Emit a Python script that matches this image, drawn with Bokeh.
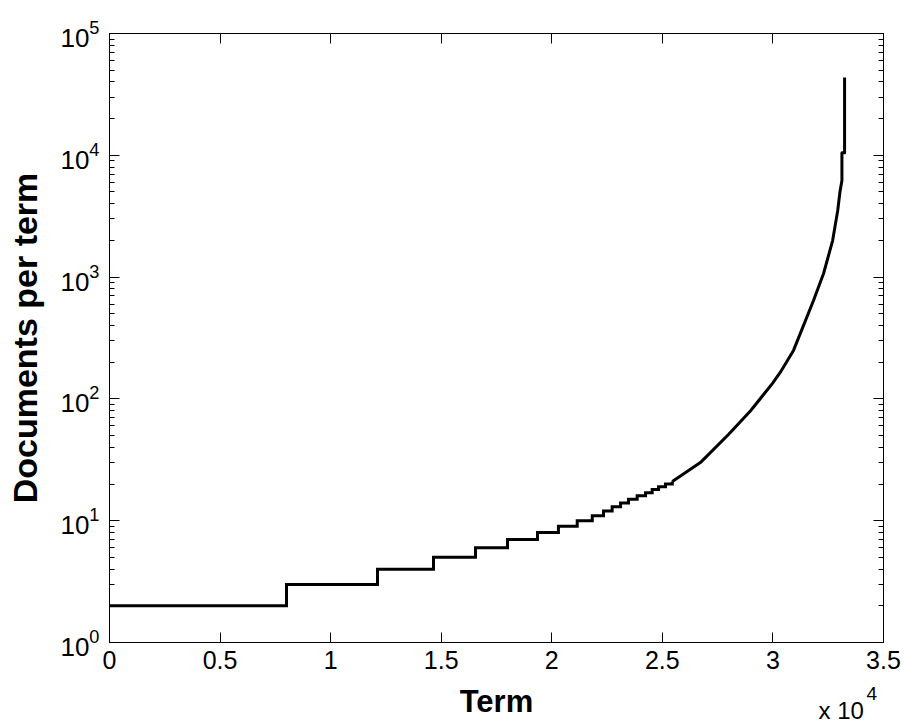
from bokeh.plotting import figure
from bokeh.models import (LogAxis, LinearAxis, FixedTicker, Label, Range1d, LogTicker,
                          CustomJSTickFormatter)
from bokeh.embed import file_html
from bokeh.resources import INLINE

# Integer-valued plateau part (term rank where each level starts, documents per term)
step_terms = [0, 8004, 12119, 14651, 16550, 17997, 19354, 20300, 21150, 21830,
              22340, 22730, 23110, 23470, 23860, 24240, 24540, 24830, 25140, 25450]
step_docs = [2, 3, 4, 5, 6, 7, 8, 9, 10, 11,
             12, 13, 14, 15, 16, 17, 18, 19, 20, 21]

# Upper, nearly smooth part of the curve
curve_terms = [25450, 26720, 27990, 28990, 29980, 30330, 30930, 31380, 31835,
               32290, 32700, 32930, 33030, 33120, 33120, 33240, 33240]
curve_docs = [21, 30, 51, 80, 134, 165, 250, 400, 643,
              1070, 1995, 3520, 5000, 6200, 10500, 10500, 43500]

x_tick_values = [0, 5000, 10000, 15000, 20000, 25000, 30000, 35000]
x_tick_labels = ["0", "0.5", "1", "1.5", "2", "2.5", "3", "3.5"]
x_min, x_max = 0, 35000
y_min, y_max = 1, 1e5

FONT = "Liberation Sans"

p = figure(width=905, height=725,
           x_range=Range1d(x_min, x_max), y_range=Range1d(y_min, y_max),
           y_axis_type="log", output_backend="svg", toolbar_location=None,
           min_border_left=109, min_border_right=22,
           min_border_top=33, min_border_bottom=83)
p.background_fill_color = "white"
p.border_fill_color = "white"
p.outline_line_color = "black"
p.outline_line_width = 1
p.grid.visible = False

xt = FixedTicker(ticks=x_tick_values)
blank = CustomJSTickFormatter(code="return ''")

# bottom axis
xa = p.xaxis[0]
xa.ticker = xt
xa.major_label_overrides = {v: s for v, s in zip(x_tick_values, x_tick_labels)}
xa.major_label_text_font = FONT
xa.major_label_text_font_size = "25px"
xa.major_label_text_color = "black"
xa.major_label_standoff = 8
xa.axis_label = "Term"
xa.axis_label_text_font = FONT
xa.axis_label_text_font_style = "bold"
xa.axis_label_text_font_size = "31px"
xa.axis_label_text_color = "black"
xa.axis_label_standoff = 12
xa.major_tick_in = 10
xa.major_tick_out = 0
xa.minor_tick_line_color = None
xa.axis_line_color = "black"
xa.major_tick_line_color = "black"

# left axis
ya = p.yaxis[0]
ya.ticker = LogTicker(num_minor_ticks=10)
ya.major_label_text_font = FONT
ya.major_label_text_font_size = "26px"
ya.major_label_text_color = "black"
ya.major_label_standoff = 10
ya.axis_label = "Documents per term"
ya.axis_label_text_font = FONT
ya.axis_label_text_font_style = "bold"
ya.axis_label_text_font_size = "34px"
ya.axis_label_text_color = "black"
ya.axis_label_standoff = 13
ya.major_tick_in = 10
ya.major_tick_out = 0
ya.minor_tick_in = 5
ya.minor_tick_out = 0
ya.axis_line_color = "black"
ya.major_tick_line_color = "black"
ya.minor_tick_line_color = "black"

# right axis (ticks only)
ra = LogAxis(ticker=LogTicker(num_minor_ticks=10), formatter=blank)
ra.major_label_text_font_size = "2px"
ra.major_label_standoff = 0
ra.major_tick_in = 10
ra.major_tick_out = 0
ra.minor_tick_in = 5
ra.minor_tick_out = 0
ra.axis_line_color = "black"
p.add_layout(ra, "right")

# top axis (ticks only)
ta = LinearAxis(ticker=xt, formatter=blank)
ta.major_label_text_font_size = "2px"
ta.major_label_standoff = 0
ta.major_tick_in = 10
ta.major_tick_out = 0
ta.minor_tick_line_color = None
ta.axis_line_color = "black"
p.add_layout(ta, "above")

p.step(step_terms, step_docs, mode="after", line_width=3, line_color="black",
       line_join="miter")
p.line(curve_terms, curve_docs, line_width=3, line_color="black", line_join="round")

# axis multiplier "x 10^4": drawn relative to the bottom-right corner of the axes;
# kept in side panels (where there is spare room) so it is not clipped to the frame
p.add_layout(Label(x=x_max, y=y_min, x_offset=-65, y_offset=-68, text="x 10",
                   text_font=FONT, text_font_size="24px", text_color="black",
                   text_align="left", text_baseline="alphabetic"), "above")
p.add_layout(Label(x=x_max, y=y_min, x_offset=-17, y_offset=-44, text="4",
                   text_font=FONT, text_font_size="19px", text_color="black",
                   text_align="left", text_baseline="top"), "right")

open("out.html", "w").write(file_html(p, INLINE))
